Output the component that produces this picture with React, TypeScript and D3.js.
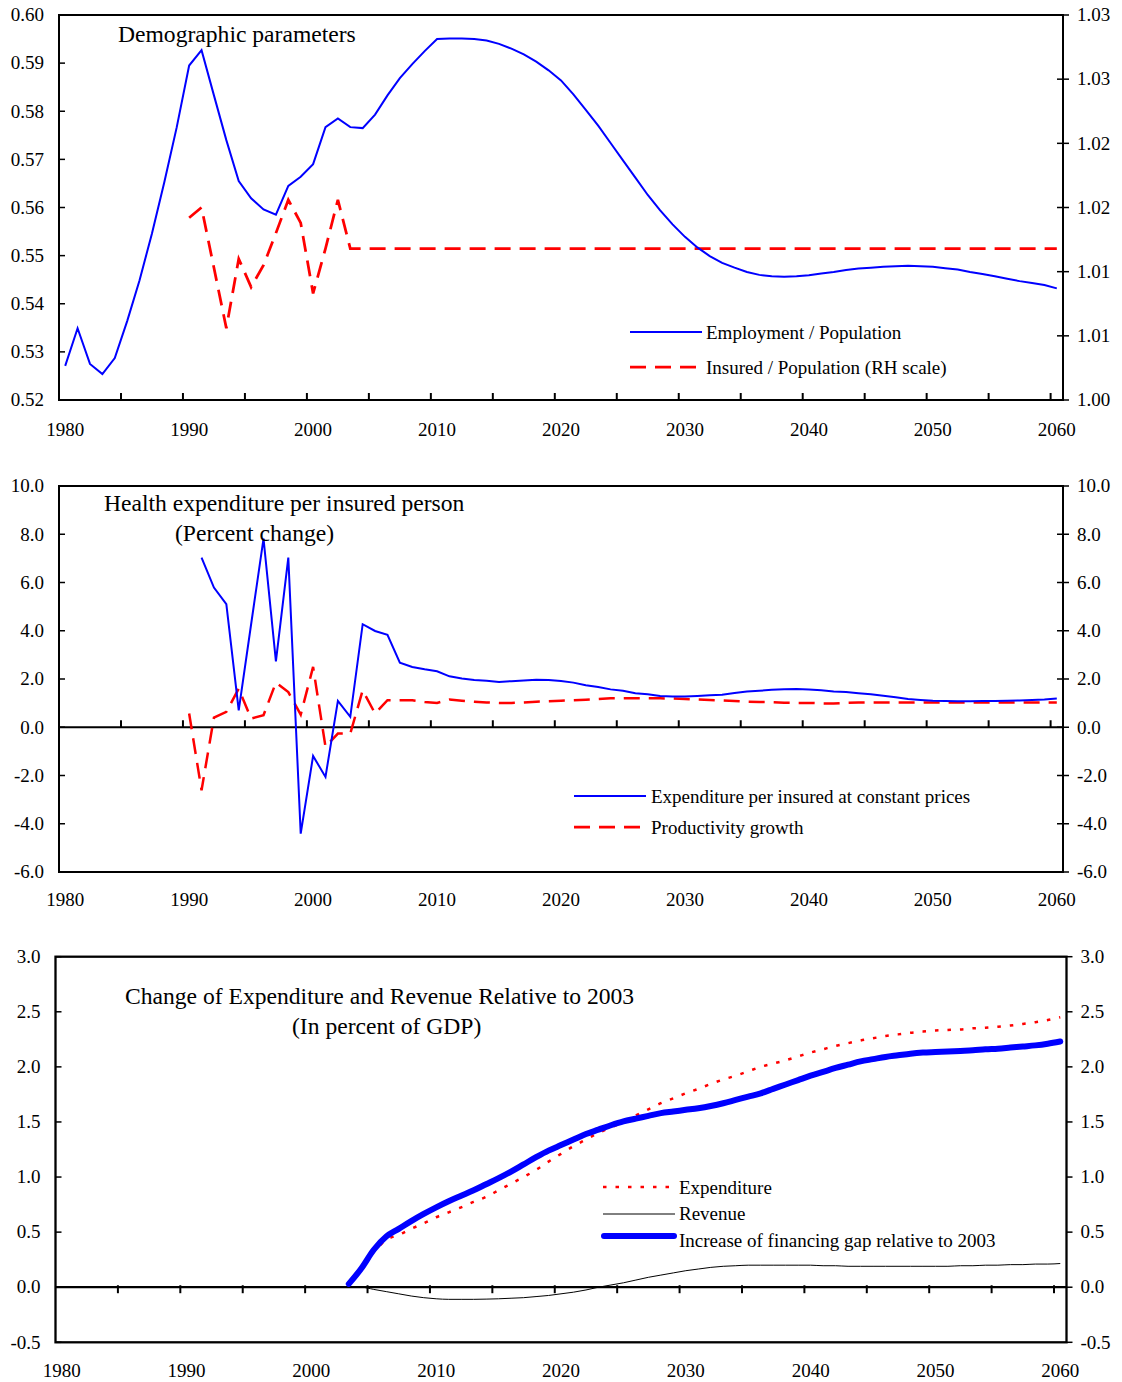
import * as d3 from "d3"

// ---- data ----
const years = d3.range(1980, 2061)
const xLabelYears = [1980, 1990, 2000, 2010, 2020, 2030, 2040, 2050, 2060]
const xTickYears = [1985, 1990, 1995, 2000, 2005, 2010, 2015, 2020, 2025, 2030, 2035, 2040, 2045, 2050, 2055, 2060]

// Panel 1: employment / population, 1980-2060
const empPop = [
  0.5271, 0.5349, 0.5275, 0.5254, 0.5287, 0.5364, 0.5449, 0.5546, 0.5653, 0.5767,
  0.5895, 0.5927, 0.5833, 0.574, 0.5655, 0.5619, 0.5596, 0.5585, 0.5645, 0.5664,
  0.569, 0.5767, 0.5785, 0.5767, 0.5765, 0.5793, 0.5833, 0.5869, 0.5898, 0.5925,
  0.595, 0.5951, 0.5951, 0.595, 0.5947, 0.594, 0.593, 0.5918, 0.5903, 0.5885,
  0.5864, 0.5835, 0.5803, 0.577, 0.5734, 0.5698, 0.5662, 0.5626, 0.5594, 0.5565,
  0.5539, 0.5517, 0.5499, 0.5485, 0.5475, 0.5466, 0.546, 0.5457, 0.5456, 0.5457,
  0.5459, 0.5463, 0.5466, 0.547, 0.5473, 0.5475, 0.5477, 0.5478, 0.5479, 0.5478,
  0.5477, 0.5474, 0.5471, 0.5466, 0.5462, 0.5457, 0.5452, 0.5447, 0.5443, 0.5439,
  0.5432,
]
// insured / population (RH scale), 1990-2060
const insuredStart = 1990
const insuredPop = [
  1.0142, 1.015, 1.0103, 1.0056, 1.011, 1.0088, 1.0105, 1.013, 1.0156, 1.0138,
  1.0083, 1.0118, 1.0156, 1.0118, 1.0118, 1.0118, 1.0118, 1.0118, 1.0118, 1.0118,
  1.0118, 1.0118, 1.0118, 1.0118, 1.0118, 1.0118, 1.0118, 1.0118, 1.0118, 1.0118,
  1.0118, 1.0118, 1.0118, 1.0118, 1.0118, 1.0118, 1.0118, 1.0118, 1.0118, 1.0118,
  1.0118, 1.0118, 1.0118, 1.0118, 1.0118, 1.0118, 1.0118, 1.0118, 1.0118, 1.0118,
  1.0118, 1.0118, 1.0118, 1.0118, 1.0118, 1.0118, 1.0118, 1.0118, 1.0118, 1.0118,
  1.0118, 1.0118, 1.0118, 1.0118, 1.0118, 1.0118, 1.0118, 1.0118, 1.0118, 1.0118,
  1.0118,
]
const p1LeftTicks = [0.52, 0.53, 0.54, 0.55, 0.56, 0.57, 0.58, 0.59, 0.6]
const p1RightTicks = [1.0, 1.005, 1.01, 1.015, 1.02, 1.025, 1.03]
const p1RightLabels = ["1.00", "1.01", "1.01", "1.02", "1.02", "1.03", "1.03"]

// Panel 2: expenditure per insured (1991-2060), productivity growth (1990-2060)
const expStart = 1991
const expPerInsured = [
  7.03, 5.79, 5.1, 0.7, 4.27, 7.82, 2.73, 7.03, -4.41,
  -1.19, -2.06, 1.09, 0.43, 4.27, 3.99, 3.83, 2.68, 2.5, 2.4,
  2.32, 2.11, 2.02, 1.96, 1.93, 1.88, 1.91, 1.94, 1.97, 1.96,
  1.92, 1.85, 1.74, 1.67, 1.57, 1.51, 1.41, 1.37, 1.3, 1.27,
  1.27, 1.3, 1.33, 1.35, 1.42, 1.48, 1.51, 1.55, 1.57, 1.59,
  1.56, 1.53, 1.48, 1.46, 1.41, 1.37, 1.31, 1.24, 1.17, 1.13,
  1.1, 1.09, 1.08, 1.08, 1.09, 1.09, 1.1, 1.11, 1.13, 1.15,
  1.19,
]
const prodStart = 1990
const productivity = [
  0.57, -2.61, 0.4, 0.64, 1.6, 0.36, 0.5, 1.85, 1.46, 0.52,
  2.5, -0.81, -0.26, -0.26, 1.53, 0.57, 1.12, 1.12, 1.12, 1.05,
  1.01, 1.15, 1.1, 1.06, 1.03, 1.01, 1.01, 1.03, 1.06, 1.08,
  1.1, 1.12, 1.14, 1.17, 1.2, 1.2, 1.2, 1.2, 1.2, 1.19,
  1.17, 1.15, 1.13, 1.11, 1.09, 1.06, 1.05, 1.04, 1.02, 1.01,
  1.01, 0.99, 0.98, 1.01, 1.03, 1.03, 1.03, 1.03, 1.03, 1.03,
  1.03, 1.03, 1.03, 1.03, 1.03, 1.03, 1.03, 1.03, 1.03, 1.03,
  1.03,
]
const p2Ticks = [-6, -4, -2, 0, 2, 4, 6, 8, 10]

// Panel 3: change relative to 2003, 2003-2060
const p3Start = 2003
const expenditure = [
  0.03, 0.17, 0.32, 0.43, 0.475, 0.53, 0.58,
  0.635, 0.68, 0.725, 0.775, 0.82, 0.88, 0.94, 1.0, 1.065, 1.14,
  1.21, 1.28, 1.34, 1.4, 1.45, 1.5, 1.56, 1.615, 1.67, 1.715,
  1.76, 1.8, 1.845, 1.885, 1.92, 1.96, 2.0, 2.03, 2.06, 2.095,
  2.13, 2.16, 2.19, 2.215, 2.24, 2.26, 2.28, 2.295, 2.31, 2.32,
  2.33, 2.335, 2.34, 2.35, 2.355, 2.365, 2.375, 2.39, 2.405, 2.425,
  2.45,
]
const revenue = [
  0, 0, -0.02, -0.04, -0.06, -0.08, -0.095,
  -0.105, -0.11, -0.11, -0.11, -0.108, -0.105, -0.1, -0.095, -0.085, -0.075,
  -0.06, -0.045, -0.025, 0, 0.02, 0.04, 0.065, 0.09, 0.11, 0.13,
  0.15, 0.165, 0.18, 0.19, 0.195, 0.2, 0.2, 0.2, 0.2, 0.2,
  0.2, 0.195, 0.195, 0.19, 0.19, 0.19, 0.19, 0.19, 0.19, 0.19,
  0.19, 0.19, 0.195, 0.195, 0.2, 0.2, 0.205, 0.205, 0.21, 0.21,
  0.215,
]
const financingGap = [
  0.03, 0.17, 0.34, 0.46, 0.53, 0.6, 0.665,
  0.725, 0.78, 0.83, 0.88, 0.935, 0.99, 1.05, 1.115, 1.18, 1.24,
  1.29, 1.34, 1.39, 1.43, 1.47, 1.505, 1.53, 1.555, 1.58, 1.595,
  1.61, 1.625, 1.645, 1.67, 1.7, 1.73, 1.76, 1.8, 1.84, 1.88,
  1.92, 1.955, 1.99, 2.02, 2.05, 2.07, 2.09, 2.105, 2.12, 2.13,
  2.135, 2.14, 2.145, 2.15, 2.16, 2.165, 2.175, 2.185, 2.195, 2.21,
  2.23,
]
const p3Ticks = [-0.5, 0, 0.5, 1, 1.5, 2, 2.5, 3]

const FONT = "'Liberation Serif', 'Times New Roman', serif"
const BLUE = "#0000ff"
const RED = "#ff0000"
const TICK_FS = 19
const TITLE_FS = 23.6
const LEGEND_FS = 19

type Pt = { year: number; v: number }
const toPts = (start: number, vals: number[]): Pt[] => vals.map((v, i) => ({ year: start + i, v }))

function linePath(
  pts: Pt[],
  x: d3.ScaleBand<number>,
  y: d3.ScaleLinear<number, number>,
  curve: d3.CurveFactory = d3.curveLinear
) {
  const half = x.bandwidth() / 2
  return (
    d3
      .line<Pt>()
      .x((d) => (x(d.year) ?? 0) + half)
      .y((d) => y(d.v))
      .curve(curve)(pts) ?? ""
  )
}

type TickDir = "in" | "out" | "cross"

function tickSpan(dir: TickDir, len: number): [number, number] {
  if (dir === "in") return [0, len]
  if (dir === "out") return [-len, 0]
  return [-len, len]
}

interface FrameProps {
  x: d3.ScaleBand<number>
  y: d3.ScaleLinear<number, number>
  yR: d3.ScaleLinear<number, number>
  top: number
  bottom: number
  leftTicks: number[]
  leftFmt: (v: number) => string
  rightTicks: number[]
  rightLabels: string[]
  xAxisY: number
  xLabelY: number
  xTickDir: "up" | "cross"
  leftDir: TickDir
  rightDir: TickDir
  strokeW: number
  zeroLine?: boolean
}

function Frame(p: FrameProps) {
  const [x0, x1] = p.x.range()
  const [lt0, lt1] = tickSpan(p.leftDir, 6)
  const [rt0, rt1] = tickSpan(p.rightDir, 6)
  const half = p.x.bandwidth() / 2
  return (
    <g fontFamily={FONT} fill="#000">
      <rect x={x0} y={p.top} width={x1 - x0} height={p.bottom - p.top} fill="none" stroke="#000" strokeWidth={p.strokeW} />
      {p.zeroLine && <line x1={x0} x2={x1} y1={p.xAxisY} y2={p.xAxisY} stroke="#000" strokeWidth={p.strokeW} />}
      {p.leftTicks.map((t) => (
        <g key={"l" + t}>
          <line x1={x0 - lt0} x2={x0 + lt1} y1={p.y(t)} y2={p.y(t)} stroke="#000" strokeWidth={1.5} />
          <text x={x0 - 15} y={p.y(t)} dy="0.33em" textAnchor="end" fontSize={TICK_FS}>
            {p.leftFmt(t)}
          </text>
        </g>
      ))}
      {p.rightTicks.map((t, i) => (
        <g key={"r" + t}>
          <line x1={x1 - rt1} x2={x1 - rt0} y1={p.yR(t)} y2={p.yR(t)} stroke="#000" strokeWidth={1.5} />
          <text x={x1 + 14} y={p.yR(t)} dy="0.33em" textAnchor="start" fontSize={TICK_FS}>
            {p.rightLabels[i]}
          </text>
        </g>
      ))}
      {xTickYears.map((yr) => {
        const xx = p.x(yr) ?? 0
        const y1 = p.xTickDir === "up" ? p.xAxisY - 7 : p.xAxisY - 2
        const y2 = p.xTickDir === "up" ? p.xAxisY : p.xAxisY + 6
        return <line key={"t" + yr} x1={xx} x2={xx} y1={y1} y2={y2} stroke="#000" strokeWidth={2} />
      })}
      {xLabelYears.map((yr) => (
        <text key={"x" + yr} x={(p.x(yr) ?? 0) + half} y={p.xLabelY} textAnchor="middle" fontSize={TICK_FS}>
          {yr}
        </text>
      ))}
    </g>
  )
}

function Panel1() {
  const top = 15
  const bottom = 400
  const x = d3.scaleBand<number>().domain(years).range([59, 1063]).padding(0)
  const y = d3.scaleLinear().domain([0.52, 0.6]).range([bottom, top])
  const yR = d3.scaleLinear().domain([1.0, 1.03]).range([bottom, top])
  return (
    <g>
      <Frame
        x={x} y={y} yR={yR} top={top} bottom={bottom}
        leftTicks={p1LeftTicks} leftFmt={(v) => v.toFixed(2)}
        rightTicks={p1RightTicks} rightLabels={p1RightLabels}
        xAxisY={bottom} xLabelY={436} xTickDir="up" leftDir="in" rightDir="cross" strokeW={2}
      />
      <path d={linePath(toPts(insuredStart, insuredPop), x, yR)} fill="none" stroke={RED} strokeWidth={2.75} strokeDasharray="16 9" />
      <path d={linePath(toPts(1980, empPop), x, y)} fill="none" stroke={BLUE} strokeWidth={2} />
      <text x={118} y={42} fontFamily={FONT} fontSize={TITLE_FS}>Demographic parameters</text>
      <g fontFamily={FONT} fontSize={LEGEND_FS}>
        <line x1={630} x2={702} y1={332} y2={332} stroke={BLUE} strokeWidth={2} />
        <text x={706} y={338.5}>Employment / Population</text>
        <line x1={630} x2={697} y1={367} y2={367} stroke={RED} strokeWidth={2.75} strokeDasharray="16 9" />
        <text x={706} y={373.5}>Insured / Population (RH scale)</text>
      </g>
    </g>
  )
}

function Panel2() {
  const top = 486
  const bottom = 872
  const x = d3.scaleBand<number>().domain(years).range([59, 1063]).padding(0)
  const y = d3.scaleLinear().domain([-6, 10]).range([bottom, top])
  return (
    <g>
      <Frame
        x={x} y={y} yR={y} top={top} bottom={bottom}
        leftTicks={p2Ticks} leftFmt={(v) => v.toFixed(1)}
        rightTicks={p2Ticks} rightLabels={p2Ticks.map((v) => v.toFixed(1))}
        xAxisY={y(0)} xLabelY={906} xTickDir="up" leftDir="in" rightDir="cross" strokeW={2} zeroLine
      />
      <path d={linePath(toPts(prodStart, productivity), x, y)} fill="none" stroke={RED} strokeWidth={2.5} strokeDasharray="16 9" />
      <path d={linePath(toPts(expStart, expPerInsured), x, y)} fill="none" stroke={BLUE} strokeWidth={2} />
      <g fontFamily={FONT} fontSize={TITLE_FS}>
        <text x={104} y={511}>Health expenditure per insured person</text>
        <text x={175} y={541}>(Percent change)</text>
      </g>
      <g fontFamily={FONT} fontSize={LEGEND_FS}>
        <line x1={574} x2={646} y1={796} y2={796} stroke={BLUE} strokeWidth={2} />
        <text x={651} y={802.5}>Expenditure per insured at constant prices</text>
        <line x1={574} x2={641} y1={827} y2={827} stroke={RED} strokeWidth={2.75} strokeDasharray="16 9" />
        <text x={651} y={833.5}>Productivity growth</text>
      </g>
    </g>
  )
}

function Panel3() {
  const top = 956.7
  const bottom = 1342.3
  const x = d3.scaleBand<number>().domain(years).range([55.5, 1066.5]).padding(0)
  const y = d3.scaleLinear().domain([-0.5, 3]).range([bottom, top])
  return (
    <g>
      <Frame
        x={x} y={y} yR={y} top={top} bottom={bottom}
        leftTicks={p3Ticks} leftFmt={(v) => v.toFixed(1)}
        rightTicks={p3Ticks} rightLabels={p3Ticks.map((v) => v.toFixed(1))}
        xAxisY={y(0)} xLabelY={1377} xTickDir="cross" leftDir="out" rightDir="out" strokeW={2.3} zeroLine
      />
      <path d={linePath(toPts(p3Start, revenue), x, y, d3.curveMonotoneX)} fill="none" stroke="#000" strokeWidth={1} />
      <path d={linePath(toPts(p3Start, expenditure), x, y, d3.curveMonotoneX)} fill="none" stroke={RED} strokeWidth={2.5} strokeDasharray="3.5 9" />
      <path d={linePath(toPts(p3Start, financingGap), x, y, d3.curveMonotoneX)} fill="none" stroke={BLUE} strokeWidth={6} strokeLinecap="round" strokeLinejoin="round" />
      <g fontFamily={FONT} fontSize={TITLE_FS}>
        <text x={125} y={1003.5}>Change of Expenditure and Revenue Relative to 2003</text>
        <text x={292} y={1034}>(In percent of GDP)</text>
      </g>
      <g fontFamily={FONT} fontSize={LEGEND_FS}>
        <line x1={603} x2={675} y1={1187} y2={1187} stroke={RED} strokeWidth={2.5} strokeDasharray="3.5 9" />
        <text x={679} y={1193.5}>Expenditure</text>
        <line x1={603} x2={675} y1={1214} y2={1214} stroke="#000" strokeWidth={1} />
        <text x={679} y={1220}>Revenue</text>
        <line x1={604} x2={674} y1={1236} y2={1236} stroke={BLUE} strokeWidth={6} strokeLinecap="round" />
        <text x={679} y={1246.5}>Increase of financing gap relative to 2003</text>
      </g>
    </g>
  )
}

export default function App() {
  return (
    <svg
      width={1122}
      height={1382}
      style={{ position: "absolute", left: 0, top: 0, background: "#fff" }}
    >
      <Panel1 />
      <Panel2 />
      <Panel3 />
    </svg>
  )
}
